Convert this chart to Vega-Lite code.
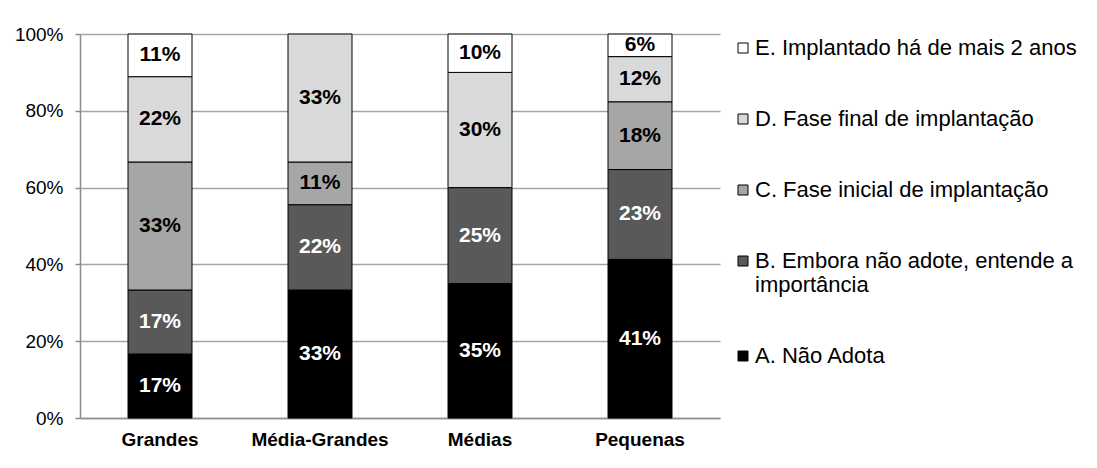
{
  "$schema": "https://vega.github.io/schema/vega-lite/v6.json",
  "width": 640,
  "height": 384,
  "autosize": {"type": "none"},
  "padding": {"left": 80, "top": 34, "right": 377, "bottom": 50},
  "background": "white",
  "config": {
    "font": "Liberation Sans",
    "view": {"stroke": null},
    "axis": {"labelFont": "Liberation Sans", "labelColor": "black", "domainColor": "#8c8c8c", "tickColor": "#8c8c8c", "gridColor": "#a6a6a6"}
  },
  "data": {
    "values": [
      {"empresa": "Grandes", "categoria": "A. Não Adota", "valor": 0.1667},
      {"empresa": "Grandes", "categoria": "B. Embora não adote, entende a importância", "valor": 0.1667},
      {"empresa": "Grandes", "categoria": "C. Fase inicial de implantação", "valor": 0.3333},
      {"empresa": "Grandes", "categoria": "D. Fase final de implantação", "valor": 0.2222},
      {"empresa": "Grandes", "categoria": "E. Implantado há de mais 2 anos", "valor": 0.1111},
      {"empresa": "Média-Grandes", "categoria": "A. Não Adota", "valor": 0.3333},
      {"empresa": "Média-Grandes", "categoria": "B. Embora não adote, entende a importância", "valor": 0.2222},
      {"empresa": "Média-Grandes", "categoria": "C. Fase inicial de implantação", "valor": 0.1111},
      {"empresa": "Média-Grandes", "categoria": "D. Fase final de implantação", "valor": 0.3334},
      {"empresa": "Médias", "categoria": "A. Não Adota", "valor": 0.35},
      {"empresa": "Médias", "categoria": "B. Embora não adote, entende a importância", "valor": 0.25},
      {"empresa": "Médias", "categoria": "D. Fase final de implantação", "valor": 0.30},
      {"empresa": "Médias", "categoria": "E. Implantado há de mais 2 anos", "valor": 0.10},
      {"empresa": "Pequenas", "categoria": "A. Não Adota", "valor": 0.413},
      {"empresa": "Pequenas", "categoria": "B. Embora não adote, entende a importância", "valor": 0.234},
      {"empresa": "Pequenas", "categoria": "C. Fase inicial de implantação", "valor": 0.1765},
      {"empresa": "Pequenas", "categoria": "D. Fase final de implantação", "valor": 0.1176},
      {"empresa": "Pequenas", "categoria": "E. Implantado há de mais 2 anos", "valor": 0.0589}
    ]
  },
  "transform": [
    {"stack": "valor", "groupby": ["empresa"], "sort": [{"field": "categoria", "order": "ascending"}], "as": ["v0", "v1"]},
    {"calculate": "(datum.v0 + datum.v1) / 2", "as": "meio"}
  ],
  "encoding": {
    "x": {
      "field": "empresa",
      "type": "nominal",
      "sort": ["Grandes", "Média-Grandes", "Médias", "Pequenas"],
      "scale": {"paddingInner": 0.6, "paddingOuter": 0.3},
      "axis": {"title": null, "labelAngle": 0, "labelFontSize": 19, "labelFontWeight": "bold", "ticks": false, "labelPadding": 12, "domainWidth": 1.5}
    }
  },
  "layer": [
    {
      "mark": {"type": "bar", "stroke": "black", "strokeWidth": 1},
      "encoding": {
        "y": {
          "field": "v0",
          "type": "quantitative",
          "scale": {"domain": [0, 1]},
          "axis": {"title": null, "format": ".0%", "values": [0, 0.2, 0.4, 0.6, 0.8, 1], "labelFontSize": 19, "tickSize": 5, "labelPadding": 12, "grid": true, "gridWidth": 1.5, "domainWidth": 1.5, "tickWidth": 1.5}
        },
        "y2": {"field": "v1"},
        "color": {
          "field": "categoria",
          "type": "nominal",
          "scale": {
            "domain": ["E. Implantado há de mais 2 anos", "D. Fase final de implantação", "C. Fase inicial de implantação", "B. Embora não adote, entende a importância", "A. Não Adota"],
            "range": ["#ffffff", "#d9d9d9", "#a6a6a6", "#595959", "#000000"]
          },
          "legend": {
            "title": null,
            "orient": "right",
            "offset": 9,
            "symbolType": "square",
            "symbolSize": 100,
            "symbolStrokeColor": "black",
            "symbolStrokeWidth": 1,
            "labelFontSize": 22,
            "labelFont": "Liberation Sans",
            "labelColor": "black",
            "labelLimit": 400,
            "labelOffset": 1,
            "rowPadding": 49,
            "padding": 3,
            "labelExpr": "datum.value == 'B. Embora não adote, entende a importância' ? ['B. Embora não adote, entende a', 'importância'] : datum.label"
          }
        }
      }
    },
    {
      "mark": {"type": "text", "fontSize": 21, "fontWeight": "bold", "font": "Liberation Sans", "baseline": "middle"},
      "encoding": {
        "y": {"field": "meio", "type": "quantitative"},
        "text": {"field": "valor", "type": "quantitative", "format": ".0%"},
        "color": {
          "condition": {"test": "indexof(datum.categoria, 'A.') == 0 || indexof(datum.categoria, 'B.') == 0", "value": "white"},
          "value": "black"
        }
      }
    }
  ]
}
